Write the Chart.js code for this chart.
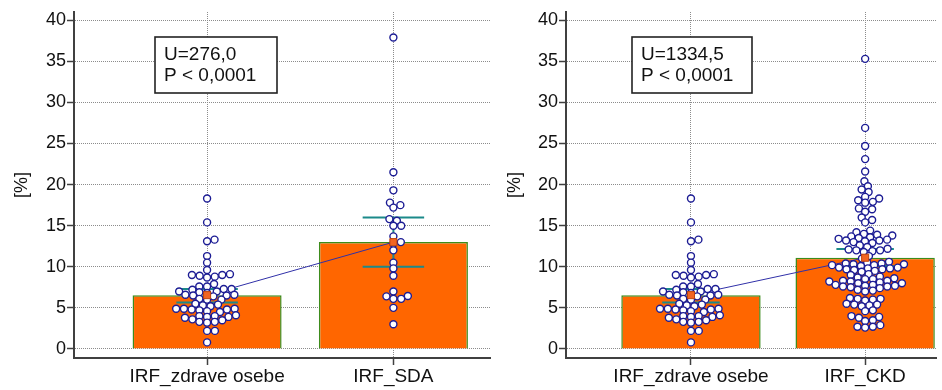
<!DOCTYPE html>
<html>
<head>
<meta charset="utf-8">
<script src="https://cdn.jsdelivr.net/npm/chart.js@4/dist/chart.umd.min.js"></script>
<style>
    html, body { margin: 0; padding: 0; background: #fff; }
    #wrap { position: relative; width: 942px; height: 390px; overflow: hidden; }
    .panel { position: absolute; top: 0; height: 390px; }
    #panelA { left: 0; width: 496px; }
    #panelB { left: 490px; width: 452px; }
</style>
</head>
<body>
<div id="wrap">
    <div class="panel" id="panelA"><canvas id="chartA" width="496" height="390"></canvas></div>
    <div class="panel" id="panelB"><canvas id="chartB" width="452" height="390"></canvas></div>
</div>
<script>
// categories and tick labels
const catsA = ['IRF_zdrave osebe', 'IRF_SDA'];
const catsB = ['IRF_zdrave osebe', 'IRF_CKD'];
const yTicks = [0, 5, 10, 15, 20, 25, 30, 35, 40];

const healthy = [18.3, 15.4, 13.1, 13.3, 11.3, 10.5, 9.6,
    8.7, 8.8, 8.9, 9.0, 9.0, 9.1,
    7.9, 7.6, 7.6, 7.3, 7.3, 7.2,
    6.9, 7.0, 7.0, 6.8,
    6.5, 6.5, 6.6, 6.6, 6.4,
    6.0, 6.0, 6.1,
    5.2, 5.3, 5.4, 5.5,
    4.5, 4.6, 4.7, 4.8, 4.9, 4.9, 4.9, 4.8,
    3.8, 3.9, 3.9, 4.0, 4.0, 4.1,
    3.2, 3.3, 3.3, 3.5, 3.6,
    2.2, 2.2, 0.8];
const sda = [37.9, 21.5, 19.3, 17.8, 17.5, 17.2, 15.8, 15.6, 15.0, 15.0, 13.7, 12.8,
    13.0, 12.0, 10.5, 9.8, 8.9, 7.0, 6.1, 6.1, 6.4, 6.45, 5.0, 3.0];
const ckd = [35.3, 26.9, 24.7, 23.1, 21.6, 20.4,
    19.8, 19.4, 19.1, 18.5, 18.3,
    18.1, 17.9, 17.8,
    17.1, 17.0, 16.7,
    16.0, 15.7, 15.4,
    14.4, 14.2, 14.0,
    13.9, 13.8, 13.7, 13.6, 13.5, 13.4,
    13.3, 13.2, 13.2, 13.1, 13.0, 12.9,
    12.6, 12.4, 12.2, 12.1, 12.0, 12.0, 11.9, 11.8,
    11.3, 11.0,
    10.6, 10.5, 10.4, 10.4, 10.3, 10.3, 10.2, 10.2, 10.1,
    9.9, 9.9, 9.8, 9.8, 9.7, 9.7, 9.6, 9.5, 9.4,
    9.1, 9.0,
    8.8, 8.7, 8.6, 8.5, 8.5,
    8.3, 8.3, 8.2, 8.2, 8.1, 8.0, 8.0,
    7.8, 7.8, 7.7, 7.7, 7.6, 7.6, 7.5, 7.4,
    7.2, 7.1, 7.0,
    6.2, 6.1, 6.1, 6.0, 5.9,
    5.5, 5.4, 5.4, 5.3, 5.2,
    4.7, 4.6,
    4.0, 3.9, 3.8,
    3.5, 3.4,
    2.9, 2.7, 2.7, 2.6];

// means (bars) and 95% CI of the mean
const meanA = [6.55, 13.0];
const ciHighA = [7.3, 16.0];
const ciLowA = [5.65, 10.0];
const meanB = [6.55, 11.1];
const ciHighB = [7.3, 12.15];
const ciLowB = [5.65, 10.1];

// test results
const statsA = ['U=276,0', 'P < 0,0001'];
const statsB = ['U=1334,5', 'P < 0,0001'];

var FONT = "'Liberation Sans', Arial, Helvetica, sans-serif";
var CI_HALF = 0.165;

/**
 * Spread the dots of each group sideways (dot plot). Dots must keep an
 * elliptical clearance: swarmGap px across, swarmRow px up and down.
 */
var swarmPlugin = {
    id: 'swarm',
    afterDatasetsUpdate: function (chart) {
        chart.data.datasets.forEach(function (ds, i) {
            if (!ds.swarm) {
                return;
            }
            var pts = chart.getDatasetMeta(i).data;
            var w = ds.swarmGap;
            var h = ds.swarmRow;
            var idx = pts.map(function (p, k) { return k; });
            idx.sort(function (a, b) { return pts[b].y - pts[a].y; });
            var placed = [];
            idx.forEach(function (k) {
                var p = pts[k];
                var near = placed.filter(function (q) { return Math.abs(q.y - p.y) < h; });
                var cands = [0];
                near.forEach(function (q) {
                    var r = (q.y - p.y) / h;
                    var dx = w * Math.sqrt(1 - r * r);
                    cands.push(q.dx + dx, q.dx - dx);
                });
                cands.sort(function (a, b) { return Math.abs(a) - Math.abs(b) || b - a; });
                var off = cands.find(function (c) {
                    return near.every(function (q) {
                        var a = (q.dx - c) / w, b = (q.y - p.y) / h;
                        return a * a + b * b >= 0.999;
                    });
                });
                placed.push({dx: off, y: p.y});
                p.x = p.x + off;
            });
        });
    }
};

var statsPlugin = {
    id: 'statsBox',
    beforeDatasetsDraw: function (chart, args, opts) {
        var ctx = chart.ctx;
        var x = chart.chartArea.left + opts.dx;
        var y = chart.chartArea.top + opts.dy;
        ctx.save();
        ctx.fillStyle = '#fff';
        ctx.fillRect(x, y, opts.w, opts.h);
        ctx.strokeStyle = '#222';
        ctx.lineWidth = 1.6;
        ctx.strokeRect(x, y, opts.w, opts.h);
        ctx.fillStyle = '#111';
        ctx.font = '19px ' + FONT;
        ctx.textBaseline = 'alphabetic';
        ctx.fillText(opts.lines[0], x + 9, y + 22.5);
        ctx.fillText(opts.lines[1], x + 9, y + 44);
        ctx.restore();
    }
};

function makeChart(id, cats, groups, means, hi, lo, stats, lay) {
    var ds = [];
    ds.push({
        type: 'line',
        data: means.map(function (m, i) { return {x: i + 1, y: m}; }),
        borderColor: '#3030a8', borderWidth: 1, pointRadius: 0, showLine: true, order: 3
    });
    ds.push({
        type: 'scatter',
        data: means.map(function (m, i) { return {x: i + 1, y: m}; }),
        pointStyle: 'rect', pointRadius: 5, backgroundColor: '#f26522',
        borderColor: '#c0440c', borderWidth: 1, order: 1
    });
    groups.forEach(function (vals, g) {
        ds.push({
            type: 'scatter',
            data: vals.map(function (v) { return {x: g + 1, y: v}; }),
            swarm: true, swarmGap: 7.8, swarmRow: 5.5,
            pointRadius: 3.5, borderWidth: 1.4,
            borderColor: '#1c1c94', backgroundColor: '#ffffff', order: 2
        });
    });
    means.forEach(function (m, i) {
        var c = i + 1;
        var segs = [
            [{x: c - CI_HALF, y: hi[i]}, {x: c + CI_HALF, y: hi[i]}],
            [{x: c - CI_HALF, y: lo[i]}, {x: c + CI_HALF, y: lo[i]}],
            [{x: c, y: lo[i]}, {x: c, y: hi[i]}]
        ];
        segs.forEach(function (seg) {
            ds.push({
                type: 'line', data: seg, borderColor: '#1b8a8a', borderWidth: 2,
                pointRadius: 0, showLine: true, order: 4
            });
        });
    });
    ds.push({
        type: 'bar',
        data: means.map(function (m, i) { return {x: i + 1, y: m}; }),
        backgroundColor: '#ff6600', borderColor: '#3c8c1c', borderWidth: 1.5,
        categoryPercentage: 0.8, barPercentage: 1, order: 5
    });

    var gridStyle = {
        color: '#8c8c8c', lineWidth: 1, drawTicks: true, tickLength: 7,
        tickColor: '#404040', tickWidth: 1.5, tickBorderDash: []
    };

    return new Chart(document.getElementById(id), {
        type: 'scatter',
        data: {datasets: ds},
        plugins: [swarmPlugin, statsPlugin],
        options: {
            responsive: false,
            animation: false,
            events: [],
            layout: {padding: {top: 12, left: 0, right: 0, bottom: 0}},
            plugins: {
                legend: {display: false},
                tooltip: {enabled: false},
                statsBox: {lines: stats, dx: lay.boxX, dy: 25, w: lay.boxW, h: 56}
            },
            scales: {
                x: {
                    type: 'linear', min: lay.xMin, max: lay.xMax, offset: false,
                    afterBuildTicks: function (s) {
                        s.ticks = cats.map(function (c, i) { return {value: i + 1}; });
                    },
                    afterFit: function (s) { s.height = 32; },
                    ticks: {
                        callback: function (v) { return cats[Math.round(v) - 1]; },
                        font: {family: FONT, size: 19}, color: '#111',
                        padding: 0, autoSkip: false, maxRotation: 0
                    },
                    grid: Object.assign({offset: false}, gridStyle),
                    border: {display: true, color: '#404040', width: 2, dash: [1, 1]}
                },
                y: {
                    type: 'linear', min: -1.1, max: 41,
                    afterBuildTicks: function (s) {
                        s.ticks = yTicks.map(function (v) { return {value: v}; });
                    },
                    afterFit: function (s) { s.width = lay.axisW; },
                    ticks: {font: {family: FONT, size: 18}, color: '#111', padding: 1},
                    grid: gridStyle,
                    border: {display: true, color: '#404040', width: 2, dash: [1, 1]},
                    title: {
                        display: true, text: '[%]', color: '#111',
                        font: {family: FONT, size: 18},
                        padding: {top: lay.titlePad, bottom: 0}
                    }
                }
            }
        }
    });
}

makeChart('chartA', catsA, [healthy, sda], meanA, ciHighA, ciLowA, statsA,
    {axisW: 74, titlePad: 11.2, xMin: 0.2857, xMax: 2.5185, boxX: 81, boxW: 122});
makeChart('chartB', catsB, [healthy, ckd], meanB, ciHighB, ciLowB, statsB,
    {axisW: 76, titlePad: 14.2, xMin: 0.2825, xMax: 2.4068, boxX: 66, boxW: 120});
</script>
</body>
</html>
